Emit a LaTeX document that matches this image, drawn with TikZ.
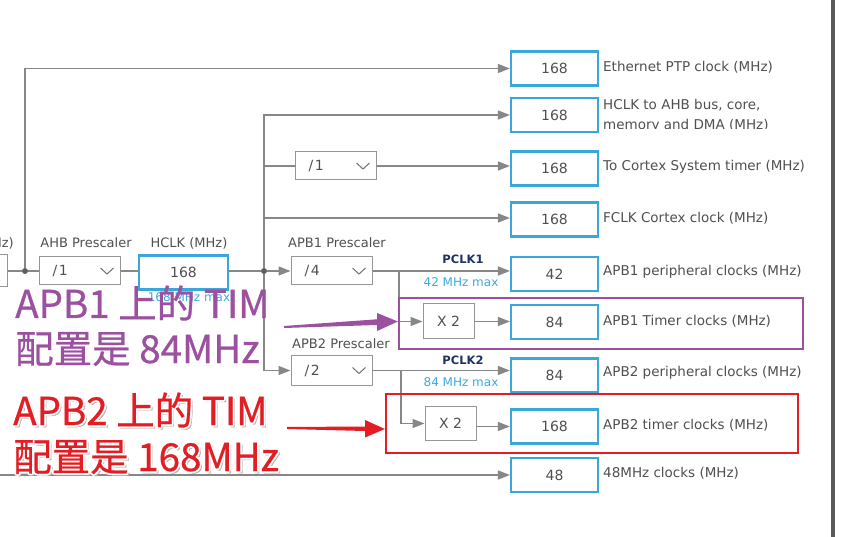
\documentclass[tikz,border=0pt]{standalone}
\usepackage{fontspec}
\setmainfont{DejaVu Sans}
\newfontfamily\cjkf[FakeBold=0.7]{Noto Sans CJK SC}
\usetikzlibrary{arrows.meta,calc}
\definecolor{wirec}{RGB}{135,135,135}
\definecolor{boxblue}{RGB}{58,166,218}
\definecolor{txtgray}{RGB}{80,80,80}
\definecolor{ddgray}{RGB}{150,150,150}
\definecolor{navyc}{RGB}{30,50,100}
\definecolor{maxblue}{RGB}{60,170,225}
\definecolor{annpurple}{RGB}{155,80,160}
\definecolor{annred}{RGB}{226,30,36}
\definecolor{sepgray}{RGB}{90,90,90}
\newcommand\anfont{\cjkf\fontsize{38.5}{42}\selectfont}
\begin{document}
\begin{tikzpicture}[x=1pt,y=-1pt,
 wire/.style={draw=wirec,line width=1.3pt},
 arr/.style={wire,-{Triangle[length=12pt,width=9pt]}},
 valbox/.style={draw=boxblue,line width=2.2pt,minimum width=87pt,minimum height=34pt,inner sep=0pt,font=\fontsize{14}{16}\selectfont,text=txtgray},
 ddbox/.style={draw=ddgray,line width=1pt,minimum width=81pt,minimum height=28pt,inner sep=0pt},
 xbox/.style={draw=ddgray,line width=1pt,minimum width=51pt,minimum height=35pt,inner sep=0pt,font=\fontsize{14}{16}\selectfont,text=txtgray},
 lbl/.style={anchor=west,inner sep=0pt,font=\fontsize{13.5}{15}\selectfont,text=txtgray},
 plbl/.style={inner sep=0pt,font=\fontsize{13}{15}\selectfont,text=txtgray},
 ddtxt/.style={anchor=west,inner sep=0pt,font=\fontsize{14}{16}\selectfont,text=txtgray},
 dotn/.style={circle,fill=wirec!70!black,inner sep=0pt,minimum size=6pt},
 maxtxt/.style={inner sep=0pt,font=\fontsize{12}{14}\selectfont,text=maxblue},
 pclk/.style={inner sep=0pt,font=\bfseries\fontsize{11.5}{13}\selectfont,text=navyc},
 chev/.style={draw=txtgray!80,line width=1pt},
 ann/.style={anchor=base west,inner sep=0pt,font=\anfont},
]
\useasboundingbox (0,0) rectangle (865,537);
\fill[white] (0,0) rectangle (865,537);

% separator line at right
\coordinate (sepT) at (833,0);
\coordinate (sepB) at (833,537);
\draw[sepgray,line width=3.5pt] (sepT) -- (sepB);

% left partial box and its label
\node[draw=ddgray,line width=1pt,minimum width=40pt,minimum height=32pt,inner sep=0pt] (lbox) at (-13,271) {};
\node[plbl,anchor=east] (lboxlbl) at (14,243) {(MHz)};

% prescaler / hclk
\node[ddbox] (ahb) at (79.5,271) {};
\node[ddtxt] (ahbt) at ($(ahb.west)+(14,0)$) {/\hspace{1.5pt}1};
\draw[chev] ($(ahb.east)+(-20,-3)$) -- ++(6.5,6) -- ++(6.5,-6);
\node[plbl] (ahbl) at (86,243) {AHB Prescaler};

\node[valbox,minimum width=89pt] (hclk) at (183.5,272.5) {168};
\node[plbl] (hclkl) at (189,243) {HCLK (MHz)};
\node[maxtxt] (hclkmax) at (189,297) {168 MHz max};

\node[dotn] (d1) at (25,271) {};
\node[dotn] (d2) at (264,271) {};

\node[ddbox] (cdiv) at (335.5,166) {};
\node[ddtxt] (cdivt) at ($(cdiv.west)+(14,0)$) {/\hspace{1.5pt}1};
\draw[chev] ($(cdiv.east)+(-20,-3)$) -- ++(6.5,6) -- ++(6.5,-6);

\node[ddbox] (apb1) at (331.5,271) {};
\node[ddtxt] (apb1t) at ($(apb1.west)+(14,0)$) {/\hspace{1.5pt}4};
\draw[chev] ($(apb1.east)+(-20,-3)$) -- ++(6.5,6) -- ++(6.5,-6);
\node[plbl] (apb1l) at (337,243) {APB1 Prescaler};

\node[ddbox,minimum height=29pt] (apb2) at (331.5,370.5) {};
\node[ddtxt] (apb2t) at ($(apb2.west)+(14,0)$) {/\hspace{1.5pt}2};
\draw[chev] ($(apb2.east)+(-20,-3)$) -- ++(6.5,6) -- ++(6.5,-6);
\node[plbl] (apb2l) at (341,344) {APB2 Prescaler};

\node[xbox] (x2a) at (448.5,321.5) {X 2};
\node[xbox,minimum height=34pt] (x2b) at (450.5,423.5) {X 2};

% value boxes
\node[valbox] (eth) at (554.5,68.5) {168};
\node[valbox] (hahb) at (554.5,115) {168};
\node[valbox] (cortex) at (554.5,168.5) {168};
\node[valbox] (fclk) at (554.5,219.5) {168};
\node[valbox] (p1) at (554.5,274) {42};
\node[valbox] (t1) at (554.5,322) {84};
\node[valbox] (p2) at (554.5,375.5) {84};
\node[valbox] (t2) at (554.5,426.5) {168};
\node[valbox] (usb) at (554.5,475) {48};

% right labels
\node[lbl] (ethl) at (603,67) {Ethernet PTP clock (MHz)};
\node[lbl] (hahbl1) at (603,105) {HCLK to AHB bus, core,};
\begin{scope}
\clip (598,113) rectangle (820,128.5);
\node[lbl] (hahbl2) at (603,125.5) {memory and DMA (MHz)};
\end{scope}
\node[lbl] (cortexl) at (603,167) {To Cortex System timer (MHz)};
\node[lbl] (fclkl) at (603,218) {FCLK Cortex clock (MHz)};
\node[lbl] (p1l) at (603,272) {APB1 peripheral clocks (MHz)};
\node[lbl] (t1l) at (603,321) {APB1 Timer clocks (MHz)};
\node[lbl] (p2l) at (603,373) {APB2 peripheral clocks (MHz)};
\node[lbl] (t2l) at (603,425) {APB2 timer clocks (MHz)};
\node[lbl] (usbl) at (603,473) {48MHz clocks (MHz)};

\node[pclk] (pc1) at (463,259) {PCLK1};
\node[maxtxt] (pc1m) at (461,282) {42 MHz max};
\node[pclk] (pc2) at (463,360) {PCLK2};
\node[maxtxt] (pc2m) at (461,382) {84 MHz max};

% connectors
\draw[wire] (lbox.east) -- (d1) -- (ahb.west);
\draw[arr] (d1) |- (eth.west);
\draw[wire] (ahb.east) -- (hclk.west |- ahb.east);
\draw[wire] (hclk.east |- d2) -- (d2);
\draw[arr] (d2) -- (apb1.west);
\draw[arr] (d2) |- (hahb.west);
\coordinate (c1) at (264,166);
\draw[wire] (c1) -- (cdiv.west);
\draw[arr] (cdiv.east) -- (cdiv.east -| cortex.west);
\coordinate (c2) at (264,218);
\draw[arr] (c2) -- (c2 -| fclk.west);
\draw[arr] (d2) |- (apb2.west);
\draw[arr] (apb1.east) -- (apb1.east -| p1.west);
\coordinate (b1) at (399,271);
\draw[arr] (b1) |- (x2a.west);
\draw[arr] (x2a.east) -- (x2a.east -| t1.west);
\draw[arr] (apb2.east) -- (apb2.east -| p2.west);
\coordinate (b2) at (401,370.5);
\draw[arr] (b2) |- (x2b.west);
\draw[arr] (x2b.east |- t2) -- (t2.west);
\coordinate (lin) at (-2,475);
\draw[arr] (lin) -- (lin -| usb.west);

% annotations: purple
\node[draw=annpurple,line width=2.2pt,minimum width=404pt,minimum height=51pt,inner sep=0pt] (prect) at (601,323.5) {};
\node[ann,text=annpurple] (pa1) at (15,318) {APB1 上的 TIM};
\node[ann,text=annpurple] (pa2) at (15,363) {配置是 84MHz};
\coordinate (ptipy) at (0,321.5);
\coordinate (ptip) at (prect.west |- ptipy);
\fill[annpurple] (284,326) -- (377,319.3) -- (377,313) -- (ptip) -- (377,331) -- (377,325) -- (284,328) -- cycle;

% annotations: red
\node[draw=annred,line width=2.2pt,minimum width=412pt,minimum height=59pt,inner sep=0pt] (rrect) at (592,423.5) {};
\foreach \px/\py/\txt/\nm in {13/425/{APB2 上的 TIM}/ra1,13/471/{配置是 168MHz}/ra2}{
  \node[ann,text=black!30] (\nm-sh) at (\px+2.2,\py+2.2) {\txt};
  \foreach \dx/\dy [count=\i] in {-1.8/0,1.8/0,0/-1.8,0/1.8,-1.3/-1.3,1.3/1.3,-1.3/1.3,1.3/-1.3}{
    \node[ann,text=white] (\nm-w\i) at (\px+\dx,\py+\dy) {\txt};
  }
  \node[ann,text=annred] (\nm) at (\px,\py) {\txt};
}
\coordinate (rtipy) at (0,429);
\coordinate (rtip) at (rrect.west |- rtipy);
\fill[annred] (287,427) -- (365,426.5) -- (365,420) -- (rtip) -- (365,437.5) -- (365,431) -- (287,429) -- cycle;
\end{tikzpicture}
\end{document}
